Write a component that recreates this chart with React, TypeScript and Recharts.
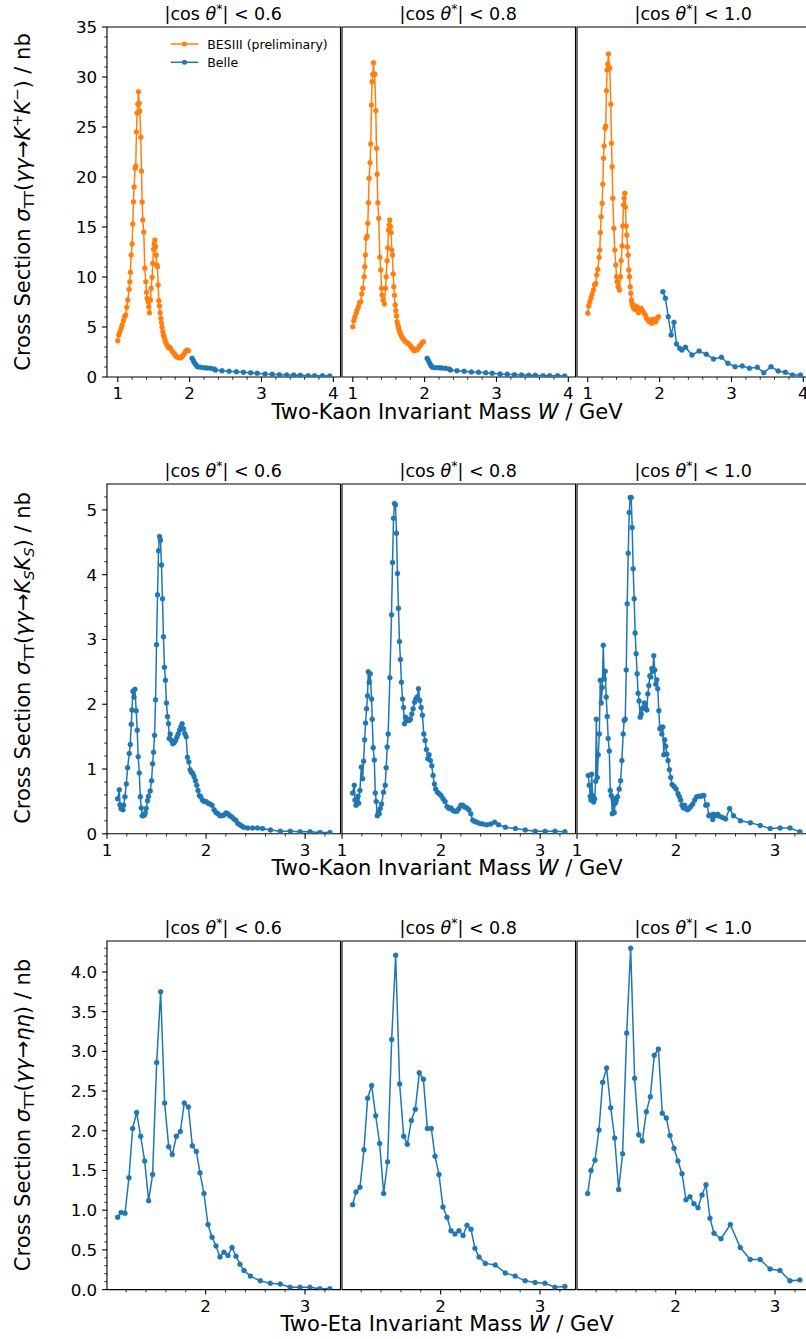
import React from 'react';
import { LineChart, Line, XAxis, YAxis, ReferenceArea } from 'recharts';

type Pt = [number, number];

const ORANGE = '#ff7f0e';
const BLUE = '#1f77b4';
const FONT = '"DejaVu Sans", sans-serif';

// ---------------- data: gamma gamma -> K+ K- ----------------
const kk06Bes: Pt[] = [[1.0,3.63],[1.014,4.2],[1.028,4.5],[1.046,4.87],[1.06,5.2],[1.079,5.63],[1.093,6.03],[1.11,6.2],[1.125,6.97],[1.139,7.7],[1.158,8.77],[1.167,9.53],[1.176,10.47],[1.186,12.2],[1.2,13.3],[1.209,15.3],[1.218,17.53],[1.227,19.0],[1.241,20.87],[1.25,21.1],[1.26,24.5],[1.269,26.4],[1.278,27.27],[1.288,28.53],[1.297,27.37],[1.306,26.6],[1.32,23.97],[1.33,20.6],[1.339,17.5],[1.348,15.7],[1.362,14.5],[1.376,10.87],[1.39,9.53],[1.4,8.47],[1.408,7.87],[1.422,7.53],[1.432,7.03],[1.441,6.43],[1.455,7.7],[1.464,8.87],[1.478,9.97],[1.487,11.37],[1.497,12.77],[1.506,13.3],[1.515,13.7],[1.525,13.03],[1.534,12.2],[1.543,11.2],[1.552,11.03],[1.562,9.2],[1.571,7.63],[1.58,7.1],[1.59,6.43],[1.599,5.87],[1.608,5.43],[1.617,4.97],[1.627,4.53],[1.636,4.2],[1.645,4.03],[1.654,3.77],[1.664,3.53],[1.678,3.3],[1.692,3.1],[1.706,2.93],[1.724,2.97],[1.743,2.77],[1.761,2.53],[1.78,2.37],[1.8,2.2],[1.817,2.03],[1.836,1.97],[1.854,1.93],[1.873,1.93],[1.891,2.03],[1.91,2.17],[1.928,2.37],[1.947,2.6],[1.966,2.7],[1.984,2.63]];
const kk06Belle: Pt[] = [[2.035,1.87],[2.054,1.6],[2.072,1.37],[2.09,1.2],[2.11,1.03],[2.15,0.97],[2.2,0.93],[2.24,0.9],[2.29,0.87],[2.34,0.8],[2.36,0.7],[2.45,0.63],[2.55,0.57],[2.65,0.53],[2.75,0.47],[2.85,0.43],[2.94,0.37],[3.05,0.3],[3.15,0.27],[3.25,0.23],[3.35,0.2],[3.45,0.2],[3.54,0.17],[3.65,0.13],[3.74,0.13],[3.85,0.13],[3.95,0.1]];

const kk08Bes: Pt[] = [[1.0,5.03],[1.014,5.63],[1.028,5.97],[1.046,6.37],[1.06,6.7],[1.079,7.03],[1.093,7.43],[1.11,7.53],[1.125,8.3],[1.139,8.87],[1.158,10.03],[1.167,11.03],[1.176,12.2],[1.186,13.87],[1.2,14.1],[1.209,15.37],[1.218,17.43],[1.227,19.87],[1.241,21.43],[1.25,23.3],[1.26,27.2],[1.269,29.53],[1.278,30.27],[1.288,31.43],[1.297,30.3],[1.306,30.27],[1.32,26.63],[1.33,22.87],[1.339,20.27],[1.348,17.43],[1.362,15.87],[1.376,11.97],[1.39,10.7],[1.4,8.87],[1.408,8.2],[1.422,7.7],[1.441,7.3],[1.455,8.87],[1.464,10.03],[1.478,11.63],[1.487,12.93],[1.497,14.7],[1.506,15.2],[1.515,15.7],[1.525,15.03],[1.534,14.43],[1.543,12.7],[1.552,12.2],[1.562,10.3],[1.571,9.03],[1.58,8.17],[1.59,7.2],[1.599,6.63],[1.608,6.1],[1.617,5.53],[1.627,5.2],[1.636,4.97],[1.645,4.7],[1.654,4.47],[1.664,4.3],[1.678,4.1],[1.692,3.93],[1.706,3.77],[1.724,3.6],[1.743,3.5],[1.761,3.4],[1.78,3.3],[1.8,3.13],[1.817,2.97],[1.836,2.8],[1.854,2.63],[1.873,2.77],[1.891,2.7],[1.91,2.87],[1.928,3.1],[1.947,3.2],[1.966,3.43],[1.984,3.53]];
const kk08Belle: Pt[] = [[2.035,1.87],[2.054,1.63],[2.072,1.37],[2.09,1.13],[2.11,0.97],[2.15,0.93],[2.2,0.93],[2.24,0.9],[2.29,0.87],[2.34,0.8],[2.36,0.7],[2.45,0.63],[2.55,0.57],[2.65,0.5],[2.75,0.47],[2.85,0.43],[2.94,0.37],[3.05,0.3],[3.15,0.27],[3.25,0.23],[3.35,0.2],[3.45,0.17],[3.54,0.17],[3.65,0.13],[3.74,0.13],[3.85,0.13],[3.95,0.1]];

const kk10Bes: Pt[] = [[1.0,6.37],[1.014,7.13],[1.028,7.53],[1.046,7.93],[1.06,8.3],[1.079,8.7],[1.093,9.2],[1.11,9.37],[1.125,10.2],[1.139,10.77],[1.158,11.97],[1.167,12.7],[1.176,14.43],[1.186,16.03],[1.2,17.37],[1.209,19.27],[1.218,21.87],[1.227,23.1],[1.241,24.87],[1.25,25.1],[1.26,28.63],[1.269,30.7],[1.278,31.3],[1.288,32.3],[1.297,30.97],[1.306,30.87],[1.32,27.27],[1.33,23.37],[1.339,21.03],[1.348,17.87],[1.362,14.87],[1.376,12.7],[1.39,11.2],[1.4,10.03],[1.408,9.53],[1.422,9.03],[1.441,8.7],[1.455,10.03],[1.464,11.63],[1.478,13.1],[1.487,15.1],[1.497,17.2],[1.506,17.87],[1.515,18.37],[1.525,16.97],[1.534,15.1],[1.543,14.2],[1.552,13.03],[1.562,12.2],[1.571,10.7],[1.58,10.03],[1.59,9.03],[1.599,8.37],[1.608,7.7],[1.617,7.37],[1.627,7.1],[1.636,6.87],[1.645,7.03],[1.654,6.77],[1.664,7.1],[1.678,6.7],[1.692,6.97],[1.706,6.43],[1.724,6.7],[1.743,6.87],[1.761,6.63],[1.78,6.43],[1.8,6.2],[1.817,5.87],[1.836,5.7],[1.854,5.53],[1.873,5.7],[1.891,5.37],[1.91,5.77],[1.928,5.53],[1.947,5.53],[1.966,5.87],[1.984,6.03]];
const kk10Belle: Pt[] = [[2.045,8.53],[2.08,7.87],[2.12,6.03],[2.16,4.2],[2.2,5.47],[2.235,3.3],[2.28,2.87],[2.31,2.7],[2.36,2.97],[2.45,2.2],[2.55,2.6],[2.65,2.27],[2.75,1.8],[2.86,1.97],[2.95,1.37],[3.05,1.03],[3.15,1.1],[3.25,0.87],[3.36,0.97],[3.45,0.43],[3.55,1.03],[3.65,0.6],[3.75,0.47],[3.85,0.2],[3.96,0.2]];

// ---------------- data: gamma gamma -> Ks Ks ----------------
const ks06: Pt[] = [[1.107,0.54],[1.124,0.68],[1.131,0.45],[1.141,0.39],[1.151,0.42],[1.161,0.37],[1.168,0.44],[1.181,0.57],[1.195,0.77],[1.208,1.02],[1.225,1.24],[1.235,1.38],[1.245,1.69],[1.252,1.91],[1.262,2.2],[1.272,2.11],[1.282,2.23],[1.295,1.9],[1.305,1.6],[1.315,1.19],[1.326,0.94],[1.336,0.57],[1.346,0.4],[1.356,0.28],[1.366,0.28],[1.376,0.29],[1.386,0.32],[1.396,0.39],[1.409,0.51],[1.419,0.58],[1.436,0.66],[1.45,0.82],[1.46,1.08],[1.47,1.26],[1.48,1.52],[1.49,2.07],[1.5,2.92],[1.51,3.69],[1.52,4.37],[1.53,4.59],[1.54,4.53],[1.55,4.15],[1.56,3.63],[1.57,3.04],[1.58,2.57],[1.59,2.37],[1.6,2.02],[1.611,1.81],[1.621,1.7],[1.628,1.47],[1.638,1.54],[1.651,1.44],[1.664,1.39],[1.678,1.41],[1.691,1.44],[1.705,1.49],[1.718,1.54],[1.732,1.6],[1.745,1.65],[1.758,1.7],[1.772,1.62],[1.785,1.55],[1.799,1.5],[1.812,1.18],[1.826,1.11],[1.839,0.99],[1.852,0.95],[1.866,0.93],[1.879,0.88],[1.893,0.82],[1.906,0.75],[1.919,0.67],[1.933,0.59],[1.946,0.57],[1.963,0.52],[1.98,0.5],[2.0,0.5],[2.02,0.47],[2.04,0.46],[2.06,0.44],[2.081,0.37],[2.1,0.33],[2.12,0.31],[2.14,0.28],[2.16,0.28],[2.18,0.29],[2.2,0.32],[2.22,0.31],[2.24,0.28],[2.26,0.26],[2.28,0.23],[2.3,0.21],[2.32,0.16],[2.34,0.14],[2.36,0.12],[2.38,0.1],[2.42,0.09],[2.47,0.09],[2.52,0.09],[2.57,0.08],[2.65,0.06],[2.75,0.04],[2.85,0.04],[2.95,0.03],[3.05,0.03],[3.15,0.02],[3.25,0.02]];
const ks08: Pt[] = [[1.107,0.63],[1.124,0.75],[1.131,0.52],[1.141,0.44],[1.151,0.49],[1.161,0.58],[1.168,0.47],[1.181,0.67],[1.195,1.03],[1.208,0.85],[1.218,1.12],[1.228,1.45],[1.238,1.71],[1.248,1.93],[1.258,2.13],[1.265,2.5],[1.275,2.34],[1.285,2.47],[1.299,2.08],[1.305,1.77],[1.315,1.33],[1.326,1.14],[1.336,0.63],[1.346,0.5],[1.356,0.28],[1.366,0.33],[1.376,0.31],[1.386,0.39],[1.399,0.46],[1.419,0.64],[1.436,0.75],[1.446,1.02],[1.456,1.34],[1.466,1.54],[1.483,2.41],[1.5,3.38],[1.51,4.19],[1.52,4.87],[1.53,5.1],[1.54,5.08],[1.55,4.64],[1.56,4.02],[1.57,3.48],[1.58,2.97],[1.59,2.69],[1.6,2.34],[1.611,2.08],[1.621,1.95],[1.631,1.7],[1.641,1.8],[1.651,1.75],[1.664,1.77],[1.678,1.75],[1.691,1.77],[1.705,1.85],[1.718,1.93],[1.732,2.03],[1.745,2.08],[1.758,2.11],[1.772,2.24],[1.785,2.06],[1.799,1.95],[1.812,1.83],[1.826,1.54],[1.839,1.44],[1.852,1.3],[1.866,1.16],[1.879,1.22],[1.893,1.13],[1.906,1.05],[1.919,0.9],[1.933,0.77],[1.946,0.69],[1.963,0.64],[1.98,0.62],[2.0,0.59],[2.02,0.54],[2.04,0.5],[2.06,0.42],[2.081,0.39],[2.1,0.4],[2.12,0.36],[2.14,0.35],[2.16,0.35],[2.18,0.39],[2.2,0.44],[2.22,0.44],[2.24,0.41],[2.26,0.4],[2.28,0.37],[2.3,0.31],[2.32,0.21],[2.34,0.19],[2.36,0.18],[2.39,0.16],[2.42,0.15],[2.46,0.14],[2.5,0.15],[2.54,0.18],[2.58,0.14],[2.65,0.1],[2.75,0.08],[2.85,0.06],[2.95,0.04],[3.05,0.04],[3.15,0.04],[3.25,0.03]];
const ks10: Pt[] = [[1.114,0.9],[1.124,0.75],[1.134,0.58],[1.141,0.52],[1.148,0.92],[1.158,0.59],[1.168,0.49],[1.178,0.54],[1.188,0.81],[1.195,1.77],[1.205,0.87],[1.215,1.22],[1.225,1.54],[1.235,2.37],[1.245,2.02],[1.255,2.26],[1.265,2.91],[1.275,2.39],[1.285,2.51],[1.295,2.11],[1.305,1.81],[1.315,1.47],[1.326,1.28],[1.336,0.67],[1.346,0.59],[1.356,0.31],[1.366,0.54],[1.376,0.33],[1.386,0.47],[1.396,0.51],[1.409,0.57],[1.426,0.69],[1.44,0.82],[1.453,1.13],[1.466,1.54],[1.476,1.75],[1.487,1.77],[1.497,2.53],[1.507,3.55],[1.517,4.33],[1.527,4.96],[1.537,5.19],[1.547,5.19],[1.557,4.73],[1.567,4.09],[1.577,3.63],[1.587,3.1],[1.597,2.78],[1.607,2.47],[1.617,2.17],[1.627,2.05],[1.638,1.8],[1.648,1.85],[1.658,1.93],[1.671,1.95],[1.681,2.02],[1.691,1.95],[1.705,1.91],[1.715,2.16],[1.725,2.29],[1.735,2.44],[1.745,2.42],[1.755,2.55],[1.765,2.51],[1.775,2.75],[1.785,2.53],[1.795,2.31],[1.805,2.38],[1.815,2.24],[1.826,1.9],[1.836,1.62],[1.846,1.64],[1.856,1.54],[1.866,1.65],[1.876,1.22],[1.886,1.45],[1.896,1.35],[1.906,1.23],[1.919,1.13],[1.933,0.99],[1.946,0.87],[1.96,0.76],[1.98,0.73],[2.0,0.69],[2.02,0.62],[2.034,0.57],[2.047,0.52],[2.06,0.44],[2.074,0.4],[2.087,0.44],[2.1,0.39],[2.114,0.37],[2.131,0.39],[2.148,0.42],[2.168,0.46],[2.188,0.52],[2.208,0.57],[2.228,0.58],[2.248,0.58],[2.268,0.59],[2.28,0.59],[2.3,0.44],[2.315,0.45],[2.33,0.28],[2.35,0.29],[2.37,0.22],[2.38,0.3],[2.4,0.28],[2.42,0.3],[2.44,0.27],[2.47,0.25],[2.5,0.23],[2.54,0.39],[2.58,0.28],[2.65,0.2],[2.75,0.17],[2.85,0.13],[2.95,0.08],[3.05,0.09],[3.15,0.09],[3.25,0.03]];

// ---------------- data: gamma gamma -> eta eta ----------------
const ee06: Pt[] = [[1.114,0.91],[1.148,0.97],[1.188,0.96],[1.228,1.41],[1.265,2.03],[1.305,2.23],[1.346,1.93],[1.386,1.62],[1.426,1.12],[1.466,1.45],[1.507,2.86],[1.547,3.75],[1.587,2.35],[1.628,1.8],[1.664,1.7],[1.705,1.93],[1.745,1.99],[1.785,2.35],[1.826,2.3],[1.866,1.81],[1.906,1.74],[1.943,1.47],[1.983,1.21],[2.023,0.82],[2.064,0.66],[2.104,0.55],[2.144,0.41],[2.184,0.47],[2.225,0.43],[2.265,0.53],[2.305,0.42],[2.345,0.32],[2.386,0.24],[2.45,0.17],[2.55,0.11],[2.65,0.08],[2.75,0.07],[2.85,0.03],[2.95,0.03],[3.05,0.03],[3.15,0.01],[3.25,0.01]];
const ee08: Pt[] = [[1.114,1.07],[1.148,1.23],[1.188,1.29],[1.228,1.76],[1.265,2.41],[1.305,2.57],[1.346,2.19],[1.386,1.84],[1.426,1.21],[1.466,1.61],[1.507,3.15],[1.547,4.21],[1.587,2.59],[1.628,1.93],[1.664,1.83],[1.705,2.13],[1.745,2.27],[1.785,2.73],[1.826,2.65],[1.866,2.03],[1.906,2.03],[1.943,1.68],[1.983,1.45],[2.023,1.04],[2.064,0.91],[2.104,0.74],[2.144,0.7],[2.184,0.74],[2.225,0.68],[2.265,0.81],[2.305,0.76],[2.345,0.52],[2.386,0.41],[2.45,0.33],[2.55,0.31],[2.65,0.21],[2.75,0.17],[2.85,0.11],[2.95,0.09],[3.05,0.08],[3.15,0.03],[3.25,0.04]];
const ee10: Pt[] = [[1.114,1.21],[1.148,1.5],[1.188,1.63],[1.228,2.01],[1.265,2.61],[1.305,2.79],[1.346,2.29],[1.386,1.91],[1.426,1.26],[1.466,1.71],[1.507,3.23],[1.547,4.3],[1.587,2.66],[1.628,1.95],[1.664,1.87],[1.705,2.24],[1.745,2.43],[1.785,2.95],[1.826,3.03],[1.866,2.22],[1.906,2.16],[1.943,1.94],[1.983,1.78],[2.023,1.62],[2.064,1.46],[2.104,1.13],[2.144,1.17],[2.184,1.08],[2.225,1.03],[2.265,1.19],[2.305,1.32],[2.345,0.9],[2.386,0.71],[2.456,0.64],[2.55,0.82],[2.65,0.53],[2.75,0.38],[2.85,0.38],[2.95,0.26],[3.05,0.24],[3.15,0.11],[3.25,0.12]];

// ---------------- panel titles / ticks ----------------
const cutLabels = ['0.6', '0.8', '1.0'];

const range = (a: number, b: number, step: number) => {
  const out: number[] = [];
  const n = Math.round((b - a) / step);
  for (let i = 0; i <= n; i++) out.push(+(a + i * step).toFixed(6));
  return out;
};

const row1XMajor = [1, 2, 3, 4];
const row1YMajor = [0, 5, 10, 15, 20, 25, 30, 35];
const row2XMajor = [1, 2, 3];
const row2YMajor = [0, 1, 2, 3, 4, 5];
const row3XMajor = [2, 3];
const row3YMajor = [0, 0.5, 1.0, 1.5, 2.0, 2.5, 3.0, 3.5, 4.0];

const COL_LEFT = [106.5, 341.5, 576.5];
const PANEL_W = 233.5;

interface RowSpec {
  top: number;
  height: number;
  xDomain: [number, number];
  yDomain: [number, number];
  xMajor: number[];
  xTicks: number[];
  yMajor: number[];
  yTicks: number[];
  yFmt: (v: number) => string;
  panels: { bes?: Pt[]; belle: Pt[] }[];
}

const rows: RowSpec[] = [
  {
    top: 27, height: 350,
    xDomain: [0.85, 4.1], yDomain: [0, 35],
    xMajor: row1XMajor, xTicks: range(1, 4, 0.2),
    yMajor: row1YMajor, yTicks: range(0, 35, 1),
    yFmt: (v) => String(v),
    panels: [
      { bes: kk06Bes, belle: kk06Belle },
      { bes: kk08Bes, belle: kk08Belle },
      { bes: kk10Bes, belle: kk10Belle },
    ],
  },
  {
    top: 483.5, height: 349.8,
    xDomain: [1.0, 3.357], yDomain: [0, 5.4],
    xMajor: row2XMajor, xTicks: range(1, 3.2, 0.2),
    yMajor: row2YMajor, yTicks: range(0, 5.2, 0.2),
    yFmt: (v) => String(v),
    panels: [{ belle: ks06 }, { belle: ks08 }, { belle: ks10 }],
  },
  {
    top: 940.7, height: 348.6,
    xDomain: [1.007, 3.357], yDomain: [0, 4.39],
    xMajor: row3XMajor, xTicks: range(1.2, 3.2, 0.2),
    yMajor: row3YMajor, yTicks: range(0, 4.3, 0.1),
    yFmt: (v) => v.toFixed(1),
    panels: [{ belle: ee06 }, { belle: ee08 }, { belle: ee10 }],
  },
];

const isIn = (arr: number[], v: number) => arr.some((m) => Math.abs(m - v) < 1e-6);
const toObj = (a: Pt[]) => a.map(([x, y]) => ({ x, y }));

const makeXTick = (majors: number[]) => (props: any) => {
  const { x, y, payload } = props;
  const major = isIn(majors, payload.value);
  return (
    <g>
      <line x1={x} x2={x} y1={y} y2={y + (major ? 4.9 : 2.8)} stroke="#000" strokeWidth={major ? 1.1 : 0.8} />
      {major && (
        <text x={x} y={y + 9.8} dy="0.76em" textAnchor="middle" fontSize={16.7} fontFamily={FONT} fill="#000">
          {String(payload.value)}
        </text>
      )}
    </g>
  );
};

const makeYTick = (majors: number[], fmt: (v: number) => string) => (props: any) => {
  const { x, y, payload } = props;
  const major = isIn(majors, payload.value);
  return (
    <g>
      <line x1={x} x2={x - (major ? 4.9 : 2.8)} y1={y} y2={y} stroke="#000" strokeWidth={major ? 1.1 : 0.8} />
      {major && (
        <text x={x - 9.8} y={y} dy="0.36em" textAnchor="end" fontSize={16.7} fontFamily={FONT} fill="#000">
          {fmt(payload.value)}
        </text>
      )}
    </g>
  );
};

const DOT_R = 2.5;
const dotStyle = (c: string) => ({ r: DOT_R, fill: c, stroke: c, strokeWidth: 0.4 });

function Panel({ row, col }: { row: RowSpec; col: number }) {
  const L = COL_LEFT[col];
  const T = row.top;
  const W = PANEL_W;
  const H = row.height;
  const padL = 60, padT = 10, padR = 10, padB = 40;
  const p = row.panels[col];
  return (
    <div style={{ position: 'absolute', left: L - padL, top: T - padT }}>
      <LineChart width={W + padL + padR} height={H + padT + padB} margin={{ top: padT, right: padR, bottom: 0, left: 0 }}>
        <XAxis
          type="number" dataKey="x" domain={row.xDomain} allowDataOverflow
          ticks={row.xTicks} interval={0} tickSize={0} tickMargin={0}
          axisLine={false} tickLine={false} height={padB}
          tick={makeXTick(row.xMajor)}
        />
        <YAxis
          type="number" domain={row.yDomain} allowDataOverflow
          ticks={row.yTicks} interval={0} tickSize={0} tickMargin={0}
          axisLine={false} tickLine={false} width={padL}
          tick={col === 0 ? makeYTick(row.yMajor, row.yFmt) : false}
        />
        <ReferenceArea
          x1={row.xDomain[0]} x2={row.xDomain[1]} y1={row.yDomain[0]} y2={row.yDomain[1]}
          fill="none" stroke="#000" strokeWidth={1.1} ifOverflow="visible"
        />
        {p.bes && (
          <Line data={toObj(p.bes)} dataKey="y" type="linear" stroke={ORANGE} strokeWidth={1.5}
            dot={dotStyle(ORANGE)} activeDot={false} isAnimationActive={false} />
        )}
        <Line data={toObj(p.belle)} dataKey="y" type="linear" stroke={BLUE} strokeWidth={1.5}
          dot={dotStyle(BLUE)} activeDot={false} isAnimationActive={false} />
      </LineChart>
    </div>
  );
}

const SUB = 14.5;

function YLabel({ cy, kind }: { cy: number; kind: 'kk' | 'ks' | 'ee' }) {
  let reaction: React.ReactNode;
  if (kind === 'kk') {
    reaction = (
      <>
        <tspan fontStyle="italic">K</tspan>
        <tspan fontSize={SUB} dy={-8}>+</tspan>
        <tspan fontStyle="italic" dy={8}>K</tspan>
        <tspan fontSize={SUB} dy={-8}>−</tspan>
        <tspan dy={8}>) / nb</tspan>
      </>
    );
  } else if (kind === 'ks') {
    reaction = (
      <>
        <tspan fontStyle="italic">K</tspan>
        <tspan fontSize={SUB} fontStyle="italic" dy={4}>S</tspan>
        <tspan fontStyle="italic" dy={-4}>K</tspan>
        <tspan fontSize={SUB} fontStyle="italic" dy={4}>S</tspan>
        <tspan dy={-4}>) / nb</tspan>
      </>
    );
  } else {
    reaction = (
      <>
        <tspan fontStyle="italic">ηη</tspan>
        <tspan>) / nb</tspan>
      </>
    );
  }
  return (
    <text transform={`translate(22, ${cy}) rotate(-90)`} textAnchor="middle" dy="0.36em" fontSize={21} fill="#000">
      Cross Section <tspan fontStyle="italic">σ</tspan>
      <tspan fontSize={SUB} dy={4}>TT</tspan>
      <tspan dy={-4}>(</tspan>
      <tspan fontStyle="italic">γγ</tspan>→{reaction}
    </text>
  );
}

function XLabel({ y, what }: { y: number; what: string }) {
  return (
    <text x={447} y={y} dy="0.36em" textAnchor="middle" fontSize={21} fill="#000">
      {what} Invariant Mass <tspan fontStyle="italic">W</tspan> / GeV
    </text>
  );
}

function Title({ cx, baseline, cut }: { cx: number; baseline: number; cut: string }) {
  return (
    <text x={cx} y={baseline} textAnchor="middle" fontSize={17.5} fill="#000">
      |cos <tspan fontStyle="italic">θ</tspan>
      <tspan fontSize={12.5} dy={-7}>*</tspan>
      <tspan dy={7}>| &lt; {cut}</tspan>
    </text>
  );
}

function Overlay() {
  const baselines = [20, 477, 934];
  return (
    <svg width={806} height={1339} style={{ position: 'absolute', left: 0, top: 0, pointerEvents: 'none' }} fontFamily={FONT}>
      {baselines.map((b, r) =>
        COL_LEFT.map((L, c) => (
          <Title key={`${r}-${c}`} cx={L + PANEL_W / 2} baseline={b} cut={cutLabels[c]} />
        ))
      )}
      <YLabel cy={202} kind="kk" />
      <YLabel cy={658} kind="ks" />
      <YLabel cy={1115} kind="ee" />
      <XLabel y={411} what="Two-Kaon" />
      <XLabel y={867} what="Two-Kaon" />
      <XLabel y={1323} what="Two-Eta" />
      {/* legend */}
      <g fontSize={12.5}>
        <line x1={170.7} x2={198.3} y1={44} y2={44} stroke={ORANGE} strokeWidth={1.5} />
        <circle cx={184.5} cy={44} r={DOT_R} fill={ORANGE} />
        <text x={207.3} y={44} dy="0.36em" fill="#000">BESIII (preliminary)</text>
        <line x1={170.7} x2={198.3} y1={62.3} y2={62.3} stroke={BLUE} strokeWidth={1.5} />
        <circle cx={184.5} cy={62.3} r={DOT_R} fill={BLUE} />
        <text x={207.3} y={62.3} dy="0.36em" fill="#000">Belle</text>
      </g>
    </svg>
  );
}

export default function App() {
  return (
    <div style={{ position: 'absolute', left: 0, top: 0, width: 806, height: 1339, overflow: 'hidden', background: '#fff' }}>
      {rows.map((row, r) => [0, 1, 2].map((c) => <Panel key={`${r}-${c}`} row={row} col={c} />))}
      <Overlay />
    </div>
  );
}
